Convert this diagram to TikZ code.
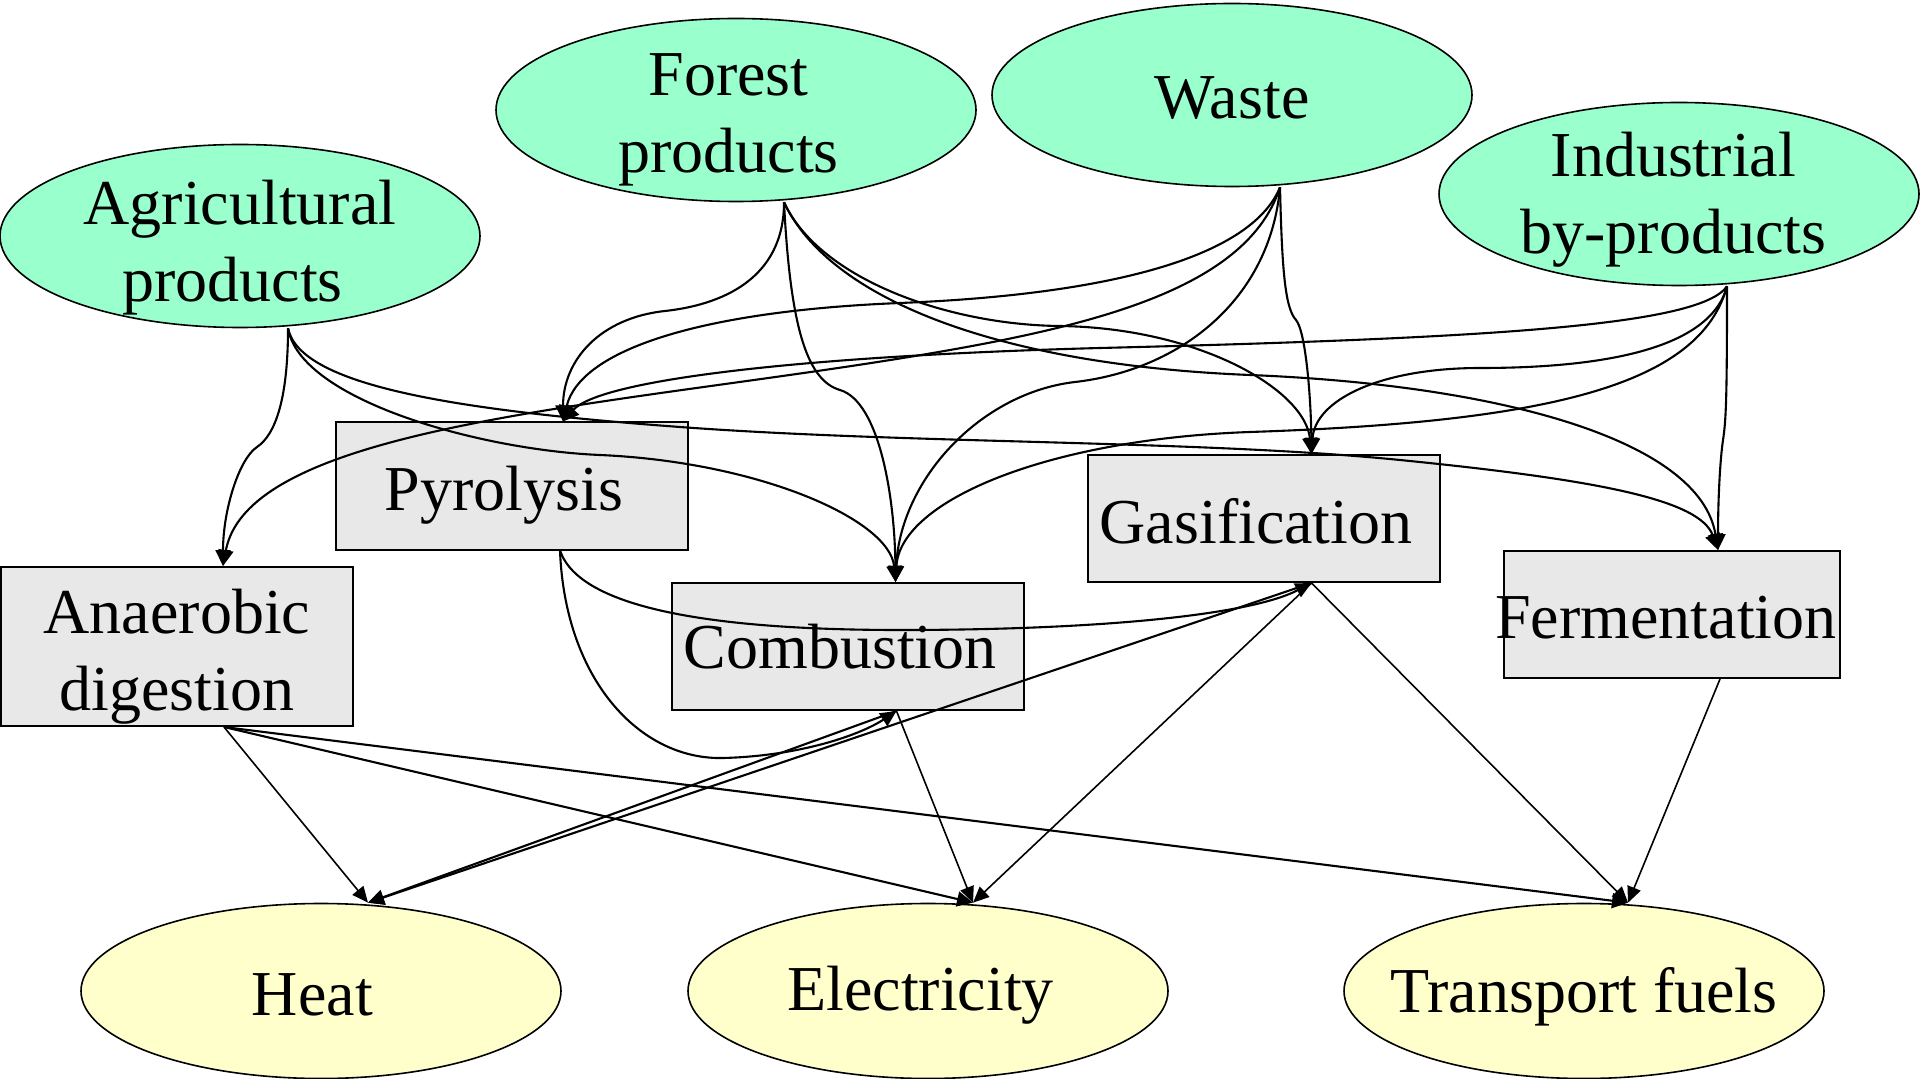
\documentclass[tikz,border=0pt]{standalone}
\usepackage{fontspec}
\setmainfont{Liberation Serif}
\usetikzlibrary{shapes.geometric,arrows.meta,calc}
\definecolor{srcgreen}{RGB}{153,255,204}
\definecolor{outyellow}{RGB}{255,255,204}
\definecolor{boxgray}{RGB}{232,232,232}
\begin{document}
\begin{tikzpicture}[x=0.5pt,y=-0.5pt,
  every node/.style={font=\fontsize{32}{38.5}\selectfont},
  src/.style={ellipse, draw, line width=0.8pt, fill=srcgreen, minimum width=240pt, minimum height=91.5pt, inner sep=0pt},
  outp/.style={ellipse, draw, line width=0.8pt, fill=outyellow, minimum width=240pt, minimum height=87.5pt, inner sep=0pt},
  proc/.style={rectangle, draw, line width=1pt, fill=boxgray, minimum width=176pt, minimum height=63.5pt, inner sep=0pt},
  txt/.style={align=center, inner sep=0pt},
  edge/.style={-{Triangle[length=8pt,width=7.5pt]}, line width=1.05pt},
  oedge/.style={-{Triangle[length=8pt,width=7pt]}, line width=0.8pt},
]
\useasboundingbox (0,0) rectangle (1920,1079);

% source ellipses
\node[src, label={[txt, yshift=-5.8pt]center:Agricultural\\\hspace*{-7.4pt}products}] (agri) at (240,236) {};
\node[src, label={[txt, xshift=-3.7pt, yshift=-5pt]center:Forest\\products}] (forest) at (736,110) {};
\node[src, label={[txt, yshift=-1.5pt]center:Waste}] (waste) at (1232,95) {};
\node[src, label={[txt, xshift=-2.8pt, yshift=-2.7pt]center:Industrial\\by-products}] (indus) at (1679,194) {};

% process boxes
\node[proc, label={[txt, xshift=-4pt, yshift=-4.5pt]center:Pyrolysis}] (pyro) at (512,486) {};
\node[proc, minimum height=79.5pt, label={[txt, yshift=-5pt]center:Anaerobic\\digestion}] (anae) at (177,646.5) {};
\node[proc, label={[txt, xshift=-3.7pt]center:Combustion}] (comb) at (847.5,646.5) {};
\node[proc, label={[txt, xshift=-3.7pt, yshift=-1.2pt]center:Gasification}] (gasi) at (1263.5,518.5) {};
\node[proc, minimum width=168pt, label={[txt, xshift=-3pt, yshift=-1.8pt]center:Fermentation}] (ferm) at (1672,614.5) {};

% output ellipses
\node[outp, label={[txt, xshift=-4.3pt, yshift=-2pt]center:Heat}] (heat) at (321,991) {};
\node[outp, label={[txt, xshift=-3.7pt, yshift=-2pt]center:Electricity}] (elec) at (928,991) {};
\node[outp, label={[txt, yshift=-3pt]center:Transport fuels}] (trans) at (1584,991) {};

% ports
\coordinate (agriO) at ($(agri.south)+(48,0)$);
\coordinate (forO) at ($(forest.south)+(48,0)$);
\coordinate (wasO) at ($(waste.south)+(48,0)$);
\coordinate (indO) at ($(indus.south)+(48,0)$);
\coordinate (anaI) at ($(anae.north)+(46,0)$);
\coordinate (pyrI) at ($(pyro.north)+(51,0)$);
\coordinate (comI) at ($(comb.north)+(48,0)$);
\coordinate (gasI) at ($(gasi.north)+(48,0)$);
\coordinate (ferI) at ($(ferm.north)+(46,0)$);
\coordinate (anaO) at ($(anae.south)+(47,0)$);
\coordinate (pyrO) at ($(pyro.south)+(48,0)$);
\coordinate (comO) at ($(comb.south)+(49,0)$);
\coordinate (gasO) at ($(gasi.south)+(48,0)$);
\coordinate (ferO) at ($(ferm.south)+(48,0)$);
\coordinate (heaI) at ($(heat.north)+(47,0)$);
\coordinate (eleI) at ($(elec.north)+(45,0)$);
\coordinate (traI) at ($(trans.north)+(44,0)$);

% Agricultural products
\draw[edge] (agriO) .. controls (288,400) and (275,435) .. (257,447) .. controls (239,459) and (223,510) .. (anaI);
\draw[edge] (agriO) .. controls (300,400) and (480,450) .. (600,455) .. controls (760,462) and (890,520) .. (comI);
\draw[edge] (agriO) .. controls (300,385) and (450,410) .. (680,427) .. controls (910,444) and (1200,440) .. (1400,460) .. controls (1600,480) and (1700,500) .. (ferI);

% Forest products
\draw[edge] (forO) .. controls (784,280) and (720,305) .. (665,311) .. controls (600,318) and (563,360) .. (pyrI);
\draw[edge] (forO) .. controls (790,320) and (805,380) .. (840,390) .. controls (880,402) and (895,500) .. (comI);
\draw[edge] (forO) .. controls (820,280) and (950,325) .. (1060,326) .. controls (1200,328) and (1305,390) .. (gasI);
\draw[edge] (forO) .. controls (830,300) and (1000,365) .. (1250,375) .. controls (1500,385) and (1700,440) .. (ferI);

% Waste
\draw[edge] (wasO) .. controls (1250,260) and (1100,295) .. (900,303) .. controls (700,311) and (580,350) .. (pyrI);
\draw[edge] (wasO) .. controls (1250,280) and (1120,320) .. (950,350) .. controls (640,405) and (250,420) .. (anaI);
\draw[edge] (wasO) .. controls (1270,300) and (1180,370) .. (1075,382) .. controls (980,393) and (900,480) .. (comI);
\draw[edge] (wasO) .. controls (1282,270) and (1285,308) .. (1296,320) .. controls (1306,332) and (1311,400) .. (gasI);

% Industrial by-products
\draw[edge] (indO) .. controls (1700,325) and (1500,338) .. (1100,348) .. controls (800,356) and (600,380) .. (pyrI);
\draw[edge] (indO) .. controls (1710,350) and (1600,368) .. (1480,368) .. controls (1380,368) and (1315,400) .. (gasI);
\draw[edge] (indO) .. controls (1700,385) and (1550,422) .. (1250,432) .. controls (1050,439) and (900,500) .. (comI);
\draw[edge] (indO) .. controls (1727,400) and (1726,420) .. (1723,440) .. controls (1720,460) and (1718,500) .. (ferI);

% Pyrolysis
\draw[edge] (pyrO) .. controls (565,680) and (640,760) .. (723,758) .. controls (800,756) and (860,735) .. (comO);
\draw[edge] (pyrO) .. controls (580,610) and (720,630) .. (900,630) .. controls (1100,630) and (1250,615) .. (gasO);

% to outputs
\draw[oedge] (anaO) -- (heaI);
\draw[edge] (anaO) -- (eleI);
\draw[edge] (anaO) -- (traI);
\draw[edge] (comO) -- (heaI);
\draw[oedge] (comO) -- (eleI);
\draw[edge] (gasO) -- (heaI);
\draw[oedge] (gasO) -- (eleI);
\draw[oedge] (gasO) -- (traI);
\draw[oedge] (ferO) -- (traI);
\end{tikzpicture}
\end{document}
